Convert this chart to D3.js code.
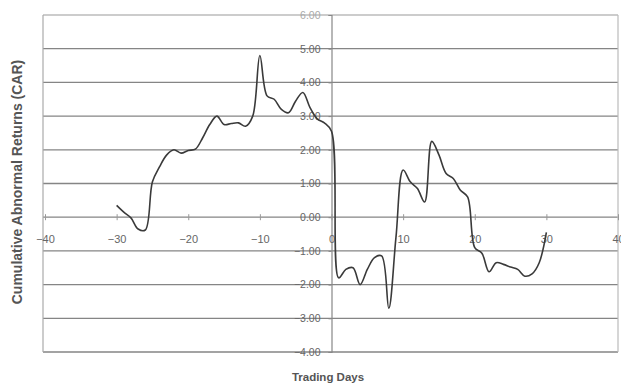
<!DOCTYPE html>
<html>
<head>
<meta charset="utf-8">
<script src="https://cdn.jsdelivr.net/npm/d3@7"></script>
<style>
  html, body { margin: 0; padding: 0; background: #fff; }
  svg { display: block; font-family: "Liberation Sans", Arial, sans-serif; }
</style>
</head>
<body>
<svg id="chart" width="621" height="389"></svg>
<script>
// Trading days around the event, and the cumulative abnormal returns for each
var days = d3.range(-30, 31);
var car = [
  0.35, 0.15, -0.02, -0.35, -0.38, 1.05, 1.5, 1.85, 2.0, 1.9,
  1.98, 2.02, 2.35, 2.75, 3.0, 2.75, 2.78, 2.8, 2.7, 3.0,
  4.8, 3.6, 3.5, 3.2, 3.1, 3.45, 3.7, 3.25, 2.92, 2.8,
  2.55,
  -1.8, -1.55, -1.5, -2.0, -1.55, -1.2, -1.15, -2.7, -0.6, 1.4,
  1.05, 0.85, 0.45, 2.25, 1.85, 1.3, 1.15, 0.8, 0.6, -0.9,
  -1.07, -1.62, -1.35, -1.4, -1.48, -1.55, -1.75, -1.68, -1.35, -0.45
];
var xTicks = [-40, -30, -20, -10, 0, 10, 20, 30, 40];
var yTicks = [-4, -3, -2, -1, 0, 1, 2, 3, 4, 5, 6];

(function() {
  var svg = d3.select('#chart'),
      left = 45, right = 618, top = 15, bottom = 352;

  var x = d3.scaleLinear().domain([-40, 40]).range([left, right]),
      y = d3.scaleLinear().domain([-4, 6]).range([bottom, top]);

  // horizontal gridlines
  svg.append('g')
    .selectAll('line')
    .data(yTicks)
    .enter().append('line')
    .attr('x1', left - 2).attr('x2', right)
    .attr('y1', function(d) { return y(d); })
    .attr('y2', function(d) { return y(d); })
    .attr('stroke', function(d) { return d == 6 ? '#bbb' : '#858585'; })
    .attr('stroke-width', 1.3);

  // plot area frame (left / right)
  svg.append('line')
    .attr('x1', left - 2).attr('x2', left - 2)
    .attr('y1', top).attr('y2', bottom)
    .attr('stroke', '#aaa').attr('stroke-width', 1.2);
  svg.append('line')
    .attr('x1', right).attr('x2', right)
    .attr('y1', top).attr('y2', bottom)
    .attr('stroke', '#bbb').attr('stroke-width', 1.2);

  // y axis crossing at day 0
  var yAxis = d3.axisLeft(y)
    .tickValues(yTicks)
    .tickSize(3)
    .tickPadding(8)
    .tickFormat(d3.format('.2f'));
  var gy = svg.append('g')
    .attr('transform', 'translate(' + x(0) + ',0)')
    .call(yAxis);
  gy.select('.domain').attr('stroke', '#888').attr('stroke-width', 1.2);
  gy.selectAll('.tick line').attr('stroke', '#888');
  gy.selectAll('.tick text')
    .attr('fill', function(d) { return d == 6 ? '#aaa' : '#666'; })
    .style('font-size', '10.5px');

  // x axis along the zero line
  var xAxis = d3.axisBottom(x)
    .tickValues(xTicks)
    .tickSize(0)
    .tickPadding(18);
  var gx = svg.append('g')
    .attr('transform', 'translate(0,' + y(0) + ')')
    .call(xAxis);
  gx.select('.domain').remove();
  gx.selectAll('.tick text')
    .attr('fill', '#666')
    .style('font-size', '11px');
  gx.selectAll('.tick')
    .append('line')
    .attr('y1', -3).attr('y2', 3)
    .attr('stroke', '#999');

  // CAR line
  var line = d3.line()
    .x(function(d, i) { return x(days[i]); })
    .y(function(d) { return y(d); })
    .curve(d3.curveCatmullRom.alpha(0.5));
  svg.append('path')
    .datum(car)
    .attr('fill', 'none')
    .attr('stroke', '#3a3a3a')
    .attr('stroke-width', 1.6)
    .attr('d', line);

  // axis titles
  svg.append('text')
    .attr('x', 328).attr('y', 381)
    .attr('text-anchor', 'middle')
    .attr('fill', '#555')
    .style('font-size', '11.5px')
    .style('font-weight', 'bold')
    .text('Trading Days');
  svg.append('text')
    .attr('transform', 'translate(22,182) rotate(-90)')
    .attr('text-anchor', 'middle')
    .attr('fill', '#555')
    .style('font-size', '14px')
    .style('font-weight', 'bold')
    .text('Cumulative Abnormal Returns (CAR)');
})();
</script>
</body>
</html>
